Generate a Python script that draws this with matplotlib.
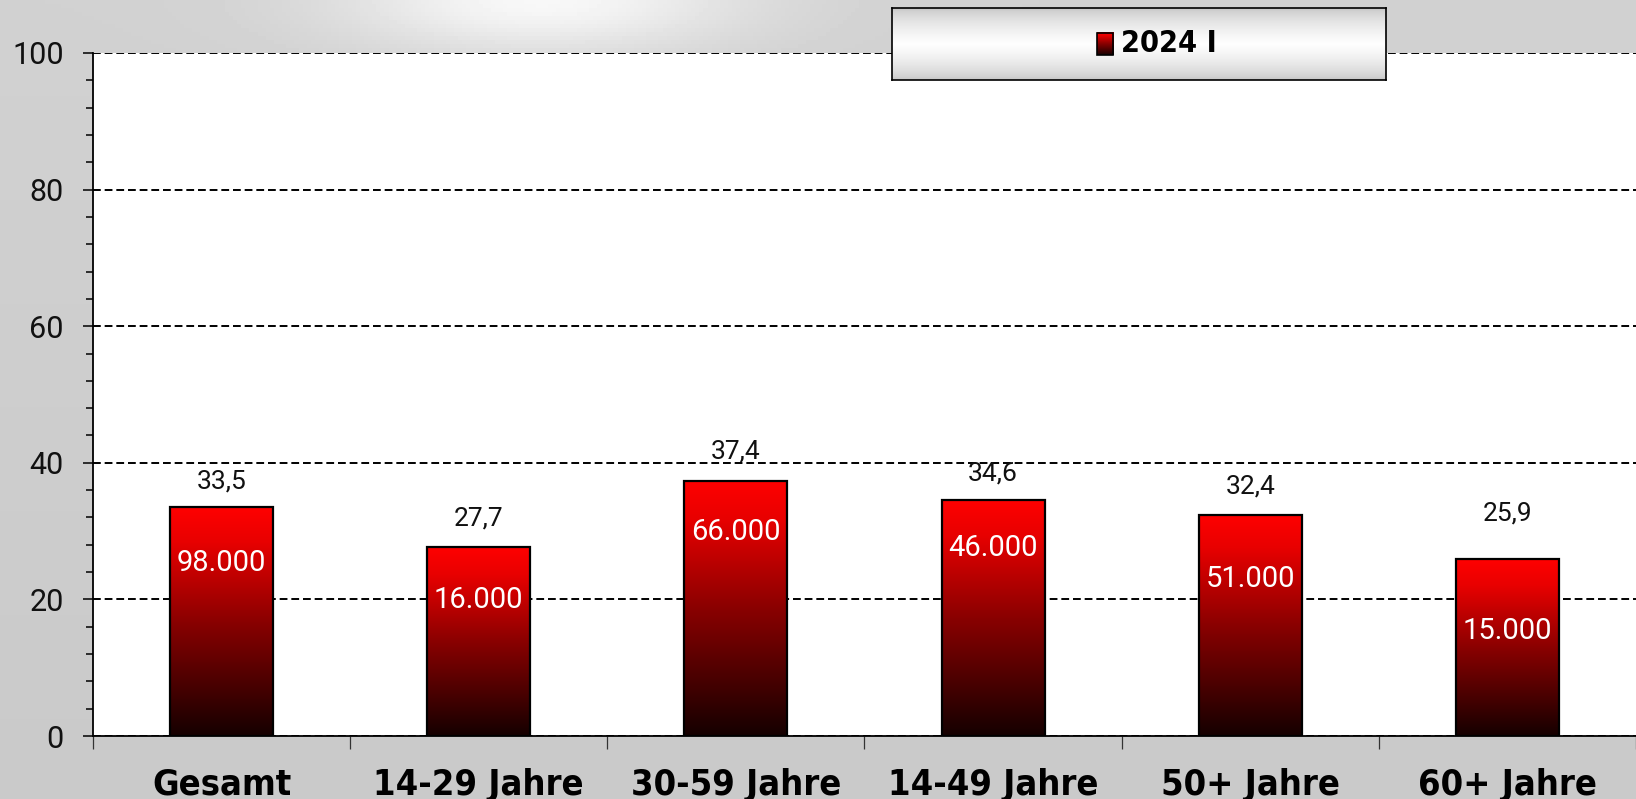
import numpy as np
import matplotlib
matplotlib.use("Agg")
import matplotlib.pyplot as plt
from matplotlib.colors import LinearSegmentedColormap
from matplotlib.ticker import MultipleLocator
import matplotlib.patches as mpatches

categories = ["Gesamt", "14-29 Jahre", "30-59 Jahre", "14-49 Jahre", "50+ Jahre", "60+ Jahre"]
shares = [33.5, 27.7, 37.4, 34.6, 32.4, 25.9]
share_labels = ["33,5", "27,7", "37,4", "34,6", "32,4", "25,9"]
share_label_y = [37.3, 31.8, 41.6, 38.5, 36.6, 32.6]
counts = ["98.000", "16.000", "66.000", "46.000", "51.000", "15.000"]
count_label_y = [25.3, 19.9, 29.9, 27.5, 23.0, 15.4]
series_name = "2024 I"
y_ticks = [0, 20, 40, 60, 80, 100]

NUM = dict(family=["Roboto", "DejaVu Sans"], weight="normal")
CAT = dict(family=["DejaVu Sans"], weight="bold", stretch="condensed")

red_cmap = LinearSegmentedColormap.from_list(
    "bar", [(0, "#150000"), (0.5, "#8a0000"), (0.85, "#e80000"), (1, "#ff0000")])

W, H = 1636, 799
fig = plt.figure(figsize=(W / 100, H / 100), dpi=100)

# grey background with a light spot at the top
bg = fig.add_axes([0, 0, 1, 1], zorder=-10)
yy, xx = np.mgrid[0:1:200j, 0:1:400j]
shade = 0.79 + 0.15 * np.exp(-((xx - 0.33) ** 2 / 0.015 + yy ** 2 / 0.004)) + 0.03 * (1 - yy)
bg.imshow(shade, cmap="gray", vmin=0, vmax=1, aspect="auto", extent=[0, 1, 0, 1])
bg.axis("off")

ax = fig.add_axes([93 / W, (H - 736) / H, 1 - 93 / W, 683 / H])
ax.set_facecolor("white")

x = np.arange(len(categories))
bar_w = 0.40
grad = np.linspace(0, 1, 256).reshape(-1, 1)
for xi, h in zip(x, shares):
    ax.imshow(grad, cmap=red_cmap, origin="lower", aspect="auto",
              extent=[xi - bar_w / 2, xi + bar_w / 2, 0, h], zorder=2)
ax.bar(x, shares, width=bar_w, facecolor="none", edgecolor="black", linewidth=1.6, zorder=3)

for xi, lab, ly in zip(x, share_labels, share_label_y):
    ax.text(xi, ly, lab, ha="center", va="center", fontsize=19, color="#111111", **NUM)
for xi, lab, ly in zip(x, counts, count_label_y):
    ax.text(xi, ly, lab, ha="center", va="center", fontsize=21, color="white", zorder=4, **NUM)

ax.set_xlim(-0.5, len(categories) - 0.5)
ax.set_ylim(0, 100)

ax.yaxis.grid(True, linestyle=(0, (4, 2)), color="black", linewidth=1.4)
ax.set_axisbelow(True)
for s in ["top", "right"]:
    ax.spines[s].set_visible(False)
ax.spines["left"].set_linewidth(1.3)
ax.spines["bottom"].set_linewidth(1.3)

ax.set_yticks(y_ticks)
ax.yaxis.set_minor_locator(MultipleLocator(4))
ax.tick_params(axis="y", which="major", length=7, width=1.1, pad=14, labelsize=22,
               labelcolor="#111111")
ax.tick_params(axis="y", which="minor", length=5, width=1.1)
for t in ax.get_yticklabels():
    t.set_fontfamily(NUM["family"])
    t.set_fontweight(NUM["weight"])

ax.set_xticks(np.arange(-0.5, len(categories), 1))
ax.set_xticklabels([])
ax.set_xticks(x, minor=True)
ax.set_xticklabels(categories, minor=True)
ax.tick_params(axis="x", which="major", length=9, width=0.9, color="#333333")
ax.tick_params(axis="x", which="minor", length=0, pad=23, labelsize=26)
for t in ax.get_xticklabels(minor=True):
    t.set_fontfamily(CAT["family"])
    t.set_fontweight(CAT["weight"])
    t.set_fontstretch(CAT["stretch"])

# legend box
lax = fig.add_axes([892 / W, 1 - 80 / H, 494 / W, 72 / H], zorder=10)
t = np.linspace(0, 1, 200).reshape(-1, 1)
lshade = 0.76 + 0.24 * (1 - np.abs(2 * t - 1)) ** 0.6
lax.imshow(lshade, cmap="gray", vmin=0, vmax=1, aspect="auto", extent=[0, 1, 0, 1])
lax.set_xlim(0, 1)
lax.set_ylim(0, 1)
lax.set_xticks([])
lax.set_yticks([])
for s in lax.spines.values():
    s.set_linewidth(1.2)
sq_x, sq_w, sq_y0, sq_y1 = 0.415, 0.0324, 0.347, 0.653
lax.imshow(grad, cmap=red_cmap, origin="lower", aspect="auto",
           extent=[sq_x, sq_x + sq_w, sq_y0, sq_y1], zorder=2)
lax.add_patch(mpatches.Rectangle((sq_x, sq_y0), sq_w, sq_y1 - sq_y0, facecolor="none",
                                 edgecolor="black", linewidth=1.2, zorder=3))
lax.text(0.4636, 0.5, series_name, ha="left", va="center", fontsize=22, **CAT)

fig.savefig("out.png", dpi=100)
